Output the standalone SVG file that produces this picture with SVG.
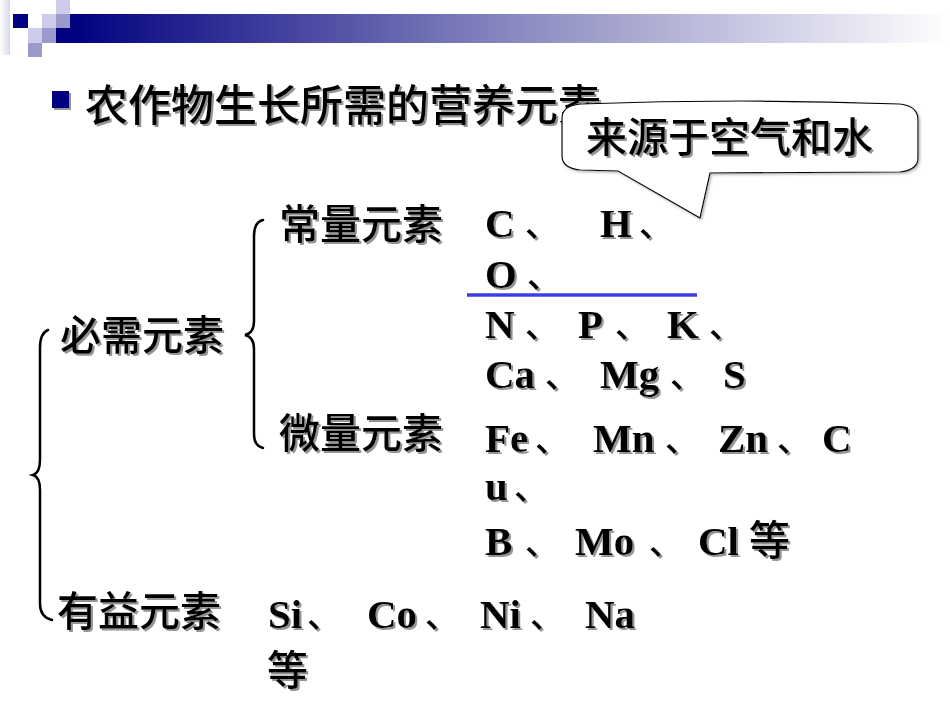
<svg xmlns="http://www.w3.org/2000/svg" width="950" height="713" viewBox="0 0 950 713">
<defs>
<linearGradient id="bar" x1="0" y1="0" x2="1" y2="0">
<stop offset="0" stop-color="#000080"/>
<stop offset="0.5" stop-color="#8888c0"/>
<stop offset="1" stop-color="#ffffff"/>
</linearGradient>
<linearGradient id="edge" x1="0" y1="0" x2="1" y2="0">
<stop offset="0" stop-color="#ffffff"/>
<stop offset="1" stop-color="#d8d8ee"/>
</linearGradient>
<filter id="sh" x="-5%" y="-20%" width="115%" height="150%">
<feDropShadow dx="2" dy="2" stdDeviation="0.6" flood-color="#888888" flood-opacity="0.9"/>
</filter>
<filter id="bsh" x="-5%" y="-10%" width="115%" height="130%">
<feDropShadow dx="1.5" dy="1.5" stdDeviation="1" flood-color="#999999" flood-opacity="0.7"/>
</filter>
</defs>
<style>
.cjk{font-family:"Noto Sans CJK SC","Noto Sans CJK JP",sans-serif;font-weight:500;fill:#000}
.el{font-family:"Liberation Serif","Noto Sans CJK SC",serif;font-weight:bold;font-size:41px;fill:#000}
.cm{font-family:"Noto Sans CJK SC",sans-serif;font-weight:500;font-size:34px}
.dg{font-family:"Noto Sans CJK SC",sans-serif;font-weight:500;font-size:41px}
.brace{fill:none;stroke:#000;stroke-width:2.5;stroke-linecap:round}
</style>

<g id="header">
<rect x="0" y="0" width="10" height="55" fill="url(#edge)"/>
<rect x="70" y="14" width="880" height="29" fill="url(#bar)"/>
<rect x="13" y="14" width="15" height="14" fill="#000080"/>
<rect x="42" y="14" width="14" height="14" fill="#ccccea"/>
<rect x="56" y="14" width="14" height="14" fill="#9999cc"/>
<rect x="56" y="0" width="14" height="14" fill="#ccccea"/>
<rect x="28" y="28" width="14" height="15" fill="#ccccea"/>
<rect x="42" y="28" width="14" height="15" fill="#9999cc"/>
<rect x="56" y="28" width="14" height="15" fill="#000080"/>
<rect x="28" y="43" width="14" height="14" fill="#9999cc"/>
</g>

<g id="title" filter="url(#sh)">
<rect x="52" y="91" width="17" height="17" fill="#000080"/>
<text class="cjk" x="85" y="121" font-size="43">农作物生长所需的营养元素</text>
</g>

<g id="callout">
<path d="M580,104 Q740,98 900,104 Q918,106 918,120 L918,158 Q918,170 900,172 L710,173 L700,218 L618,171 L580,170 Q562,168 562,156 L562,118 Q562,106 580,104 Z" fill="#ffffff" stroke="#000" stroke-width="1.2" filter="url(#bsh)"/>
<text class="cjk" x="586" y="152" font-size="41" filter="url(#sh)">来源于空气和水</text>
</g>

<g id="connectors">
<path class="brace" d="M263,220 Q254,222 254,236 L254,321 Q254,333 245,335 Q254,337 254,349 L254,434 Q254,446 263,448"/>
<path class="brace" d="M48,330 Q40,333 40,348 L40,460 Q40,473 33,475 Q40,477 40,490 L40,604 Q40,617 52,620"/>
<line x1="467" y1="295" x2="697" y2="295" stroke="#3c3ce6" stroke-width="3.5"/>
</g>

<g id="n-biyao" filter="url(#sh)">
<text class="cjk" x="60" y="350" font-size="41">必需元素</text>
</g>
<g id="n-changliang" filter="url(#sh)">
<text class="cjk" x="279" y="239" font-size="41">常量元素</text>
</g>
<g id="n-weiliang" filter="url(#sh)">
<text class="cjk" x="279" y="448" font-size="41">微量元素</text>
</g>
<g id="n-youyi" filter="url(#sh)">
<text class="cjk" x="57" y="626" font-size="41">有益元素</text>
</g>

<g id="macro-elements" filter="url(#sh)">
<text class="el" y="237"><tspan x="485">C</tspan><tspan class="cm" x="525">、</tspan><tspan x="600">H</tspan><tspan class="cm" x="639">、</tspan></text>
<text class="el" y="288"><tspan x="485">O</tspan><tspan class="cm" x="527">、</tspan></text>
<text class="el" y="338"><tspan x="485">N</tspan><tspan class="cm" x="525">、</tspan><tspan x="578">P</tspan><tspan class="cm" x="615">、</tspan><tspan x="667">K</tspan><tspan class="cm" x="709">、</tspan></text>
<text class="el" y="388"><tspan x="485">Ca</tspan><tspan class="cm" x="545">、</tspan><tspan x="600">Mg</tspan><tspan class="cm" x="670">、</tspan><tspan x="723">S</tspan></text>
</g>

<g id="micro-elements" filter="url(#sh)">
<text class="el" y="452"><tspan x="485">Fe</tspan><tspan class="cm" x="535">、</tspan><tspan x="593">Mn</tspan><tspan class="cm" x="665">、</tspan><tspan x="718">Zn</tspan><tspan class="cm" x="777">、</tspan><tspan x="822">C</tspan></text>
<text class="el" y="500"><tspan x="485">u</tspan><tspan class="cm" x="514">、</tspan></text>
<text class="el" y="555"><tspan x="485">B</tspan><tspan class="cm" x="525">、</tspan><tspan x="575">Mo</tspan><tspan class="cm" x="649">、</tspan><tspan x="698">Cl</tspan><tspan class="dg" x="749">等</tspan></text>
</g>

<g id="beneficial-elements" filter="url(#sh)">
<text class="el" y="628"><tspan x="268">Si</tspan><tspan class="cm" x="307">、</tspan><tspan x="367">Co</tspan><tspan class="cm" x="425">、</tspan><tspan x="480">Ni</tspan><tspan class="cm" x="530">、</tspan><tspan x="585">Na</tspan></text>
<text class="el" y="685"><tspan class="dg" x="267">等</tspan></text>
</g>
</svg>
